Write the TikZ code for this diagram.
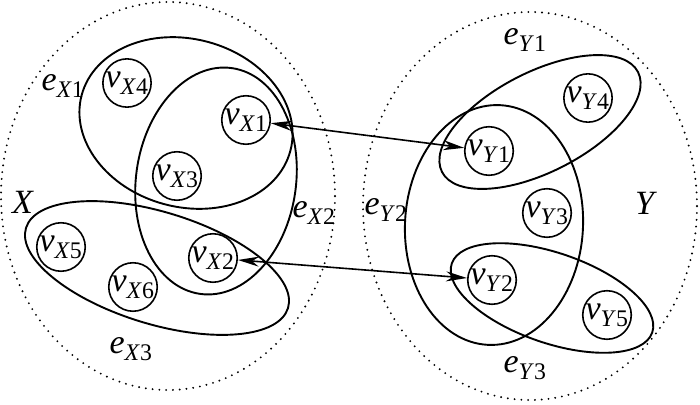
\documentclass[tikz,border=0pt]{standalone}
\usepackage{fontspec}
\setmainfont{Liberation Serif}
\usetikzlibrary{arrows.meta}
\newcommand{\vlab}[2]{\textit{v}\textsubscript{\textit{#1}#2}}
\newcommand{\elab}[2]{\textit{e}\textsubscript{\textit{#1}#2}}
\begin{document}
\begin{tikzpicture}[x=1pt,y=-1pt,
  vert/.style={draw,circle,line width=1.6pt,minimum size=46pt,inner sep=0pt,font=\fontsize{34}{38}\selectfont},
  lab/.style={inner sep=0pt,font=\fontsize{34}{38}\selectfont},
  hedge/.style={line width=1.9pt},
  universe/.style={line width=2.1pt,line cap=round,dash pattern=on 0pt off 6.8pt},
  link/.style={line width=1.6pt,{Stealth[length=21pt,width=10pt]}-{Stealth[length=21pt,width=10pt]}}]
\useasboundingbox (0,0) rectangle (700,404);
% universes
\draw[universe] (168,196) ellipse [x radius=167pt, y radius=194pt];
\draw[universe] (530,206) ellipse [x radius=167pt, y radius=194pt];
% hyperedges X
\draw[hedge,rotate around={-15:(186,123)}] (186,123) ellipse [x radius=108pt, y radius=84pt];
\draw[hedge,rotate around={-8:(216,181)}] (216,181) ellipse [x radius=80pt, y radius=114pt];
\draw[hedge,rotate around={-17:(157,268)}] (157,268) ellipse [x radius=137pt, y radius=56pt];
% hyperedges Y
\draw[hedge,rotate around={27:(540,122)}] (540,122) ellipse [x radius=110pt, y radius=50pt];
\draw[hedge,rotate around={-3:(494,225)}] (494,225) ellipse [x radius=89pt, y radius=120pt];
\draw[hedge,rotate around={-19:(552,298)}] (552,298) ellipse [x radius=106pt, y radius=45pt];
% vertices
\node[vert] (vX4) at (127,83) {\vlab{X}{4}};
\node[vert] (vX1) at (246,120) {\vlab{X}{1}};
\node[vert] (vX3) at (177,176) {\vlab{X}{3}};
\node[vert] (vX5) at (61,247) {\vlab{X}{5}};
\node[vert] (vX6) at (133,287) {\vlab{X}{6}};
\node[vert] (vX2) at (213,258) {\vlab{X}{2}};
\node[vert] (vY4) at (588,98) {\vlab{Y}{4}};
\node[vert] (vY1) at (489,151) {\vlab{Y}{1}};
\node[vert] (vY3) at (547,213) {\vlab{Y}{3}};
\node[vert] (vY2) at (492,280) {\vlab{Y}{2}};
\node[vert] (vY5) at (607,315) {\vlab{Y}{5}};
% labels
\node[lab] (eX1) at (63,86) {\elab{X}{1}};
\node[lab] (eX2) at (314,213) {\elab{X}{2}};
\node[lab] (eX3) at (131,349) {\elab{X}{3}};
\node[lab] (lX) at (23,202) {\textit{X}};
\node[lab] (eY1) at (525,40) {\elab{Y}{1}};
\node[lab] (eY2) at (386,210) {\elab{Y}{2}};
\node[lab] (eY3) at (525,368) {\elab{Y}{3}};
\node[lab] (lY) at (646,203) {\textit{Y}};
% links
\draw[link] (vX1) -- (vY1);
\draw[link] (vX2) -- (vY2);
\end{tikzpicture}
\end{document}
